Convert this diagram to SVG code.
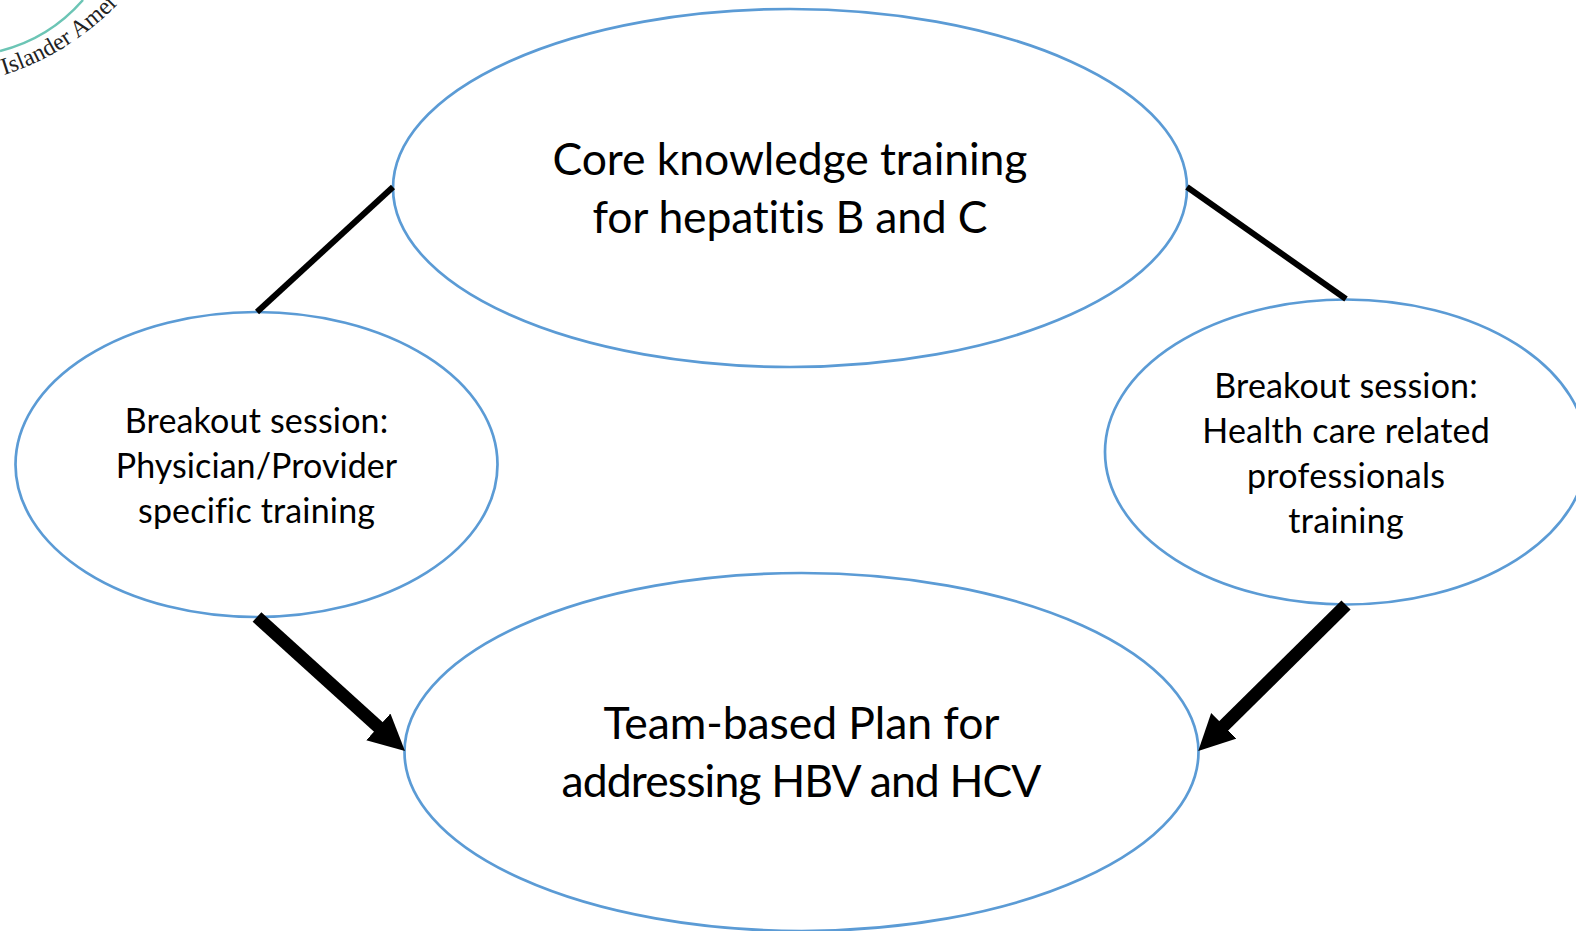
<svg xmlns="http://www.w3.org/2000/svg" width="1576" height="931" viewBox="0 0 1576 931">
<style>
.n{fill:#fff;stroke:#5b9bd5;stroke-width:2.7}
.big{font:44.5px Lato,"Open Sans",sans-serif;font-variant-ligatures:none;fill:#000;text-anchor:middle}
.sm{font:34px Lato,"Open Sans",sans-serif;font-variant-ligatures:none;fill:#000;text-anchor:middle}
.thin{stroke:#000;stroke-width:6;fill:none}
.thick{stroke:#000;stroke-width:13;fill:none}
.logo{font:24px "Liberation Serif",serif;fill:#222}
</style>
<defs>
<marker id="a" markerUnits="userSpaceOnUse" markerWidth="40" markerHeight="40" refX="2" refY="18" orient="auto"><path d="M0 0L36 18L0 36Z" fill="#000"/></marker>
<path id="logoArc" d="M4 75C40 64 80 42 116 6L150 -32"/>
</defs>
<rect width="1576" height="931" fill="#fff"/>
<g id="logo">
<path d="M0 51C36 42 62 24 83 0" fill="none" stroke="#6cc5b5" stroke-width="2.5"/>
<text class="logo"><textPath href="#logoArc">Islander Amer</textPath></text>
</g>
<g id="core"><ellipse class="n" cx="790" cy="188" rx="397" ry="179"/><text class="big" x="790" y="175" textLength="475">Core knowledge training</text><text class="big" x="790" y="233" textLength="395">for hepatitis B and C</text></g>
<g id="physician"><ellipse class="n" cx="256.5" cy="464.5" rx="241" ry="152.5"/><text class="sm" x="256.5" y="433" textLength="263.5">Breakout session:</text><text class="sm" x="256.5" y="478" textLength="281.5">Physician/Provider</text><text class="sm" x="256.5" y="523" textLength="237">specific training</text></g>
<g id="health"><ellipse class="n" cx="1346" cy="452" rx="241" ry="152.5"/><text class="sm" x="1346" y="398" textLength="263.5">Breakout session:</text><text class="sm" x="1346" y="443" textLength="287.5">Health care related</text><text class="sm" x="1346" y="488" textLength="198">professionals</text><text class="sm" x="1346" y="533" textLength="115.5">training</text></g>
<g id="plan"><ellipse class="n" cx="801.5" cy="752" rx="397" ry="179"/><text class="big" x="801.5" y="739" textLength="396">Team-based Plan for</text><text class="big" x="801.5" y="797" textLength="480">addressing HBV and HCV</text></g>
<g id="connectors">
<path class="thin" d="M393 187L257 312"/>
<path class="thin" d="M1187 187L1346 299"/>
<path class="thick" d="M257 617L379.8 728.2" marker-end="url(#a)"/>
<path class="thick" d="M1346 605L1222.4 727.2" marker-end="url(#a)"/>
</g>
</svg>
